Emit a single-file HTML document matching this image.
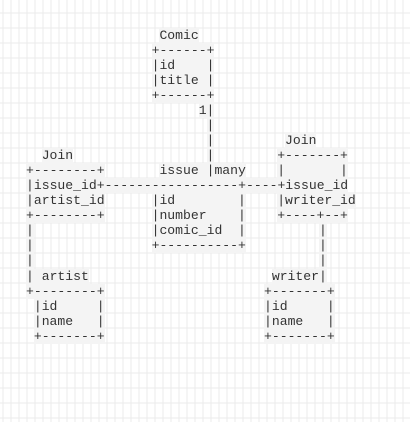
<!DOCTYPE html>
<html><head><meta charset="utf-8"><style>
html,body{margin:0;padding:0}
body{width:410px;height:422px;position:relative;overflow:hidden;background-color:#fff;
background-image:
repeating-linear-gradient(to right,transparent 0,transparent 2.5px,#ebebeb 2.5px,#ebebeb 3.5px,transparent 3.5px,transparent 8px),
repeating-linear-gradient(to bottom,transparent 0,transparent 12.5px,#ebebeb 12.5px,#ebebeb 13.5px,transparent 13.5px,transparent 15px);}
.r{position:absolute;white-space:pre;background:#f4f4f4;height:15px;line-height:15px;font-family:"Liberation Mono",monospace;font-size:13.1px;color:#333}
</style></head><body>
<span class="r" style="left:159.45px;top:27.7px">Comic</span>
<span class="r" style="left:151.6px;top:42.75px">+------+</span>
<span class="r" style="left:151.6px;top:57.8px">|id    |</span>
<span class="r" style="left:151.6px;top:72.85px">|title |</span>
<span class="r" style="left:151.6px;top:87.9px">+------+</span>
<span class="r" style="left:198.7px;top:102.95px">1|</span>
<span class="r" style="left:206.55px;top:118px">|</span>
<span class="r" style="left:206.55px;top:133.05px">|</span>
<span class="r" style="left:285.05px;top:133.05px">Join</span>
<span class="r" style="left:41.7px;top:148.1px">Join</span>
<span class="r" style="left:206.55px;top:148.1px">|</span>
<span class="r" style="left:277.2px;top:148.1px">+-------+</span>
<span class="r" style="left:26px;top:163.15px">+--------+</span>
<span class="r" style="left:159.45px;top:163.15px">issue |many</span>
<span class="r" style="left:277.2px;top:163.15px">|       |</span>
<span class="r" style="left:26px;top:178.2px">|issue_id+-----------------+----+issue_id</span>
<span class="r" style="left:26px;top:193.25px">|artist_id</span>
<span class="r" style="left:151.6px;top:193.25px">|id        |</span>
<span class="r" style="left:277.2px;top:193.25px">|writer_id</span>
<span class="r" style="left:26px;top:208.3px">+--------+</span>
<span class="r" style="left:151.6px;top:208.3px">|number    |</span>
<span class="r" style="left:277.2px;top:208.3px">+----+--+</span>
<span class="r" style="left:26px;top:223.35px">|</span>
<span class="r" style="left:151.6px;top:223.35px">|comic_id  |</span>
<span class="r" style="left:318.95px;top:223.35px">|</span>
<span class="r" style="left:26px;top:238.4px">|</span>
<span class="r" style="left:151.6px;top:238.4px">+----------+</span>
<span class="r" style="left:318.95px;top:238.4px">|</span>
<span class="r" style="left:26px;top:253.45px">|</span>
<span class="r" style="left:318.95px;top:253.45px">|</span>
<span class="r" style="left:26px;top:268.5px">| artist</span>
<span class="r" style="left:271.85px;top:268.5px">writer|</span>
<span class="r" style="left:26px;top:283.55px">+--------+</span>
<span class="r" style="left:264px;top:283.55px">+-------+</span>
<span class="r" style="left:33.85px;top:298.6px">|id     |</span>
<span class="r" style="left:264px;top:298.6px">|id     |</span>
<span class="r" style="left:33.85px;top:313.65px">|name   |</span>
<span class="r" style="left:264px;top:313.65px">|name   |</span>
<span class="r" style="left:33.85px;top:328.7px">+-------+</span>
<span class="r" style="left:264px;top:328.7px">+-------+</span>
</body></html>
